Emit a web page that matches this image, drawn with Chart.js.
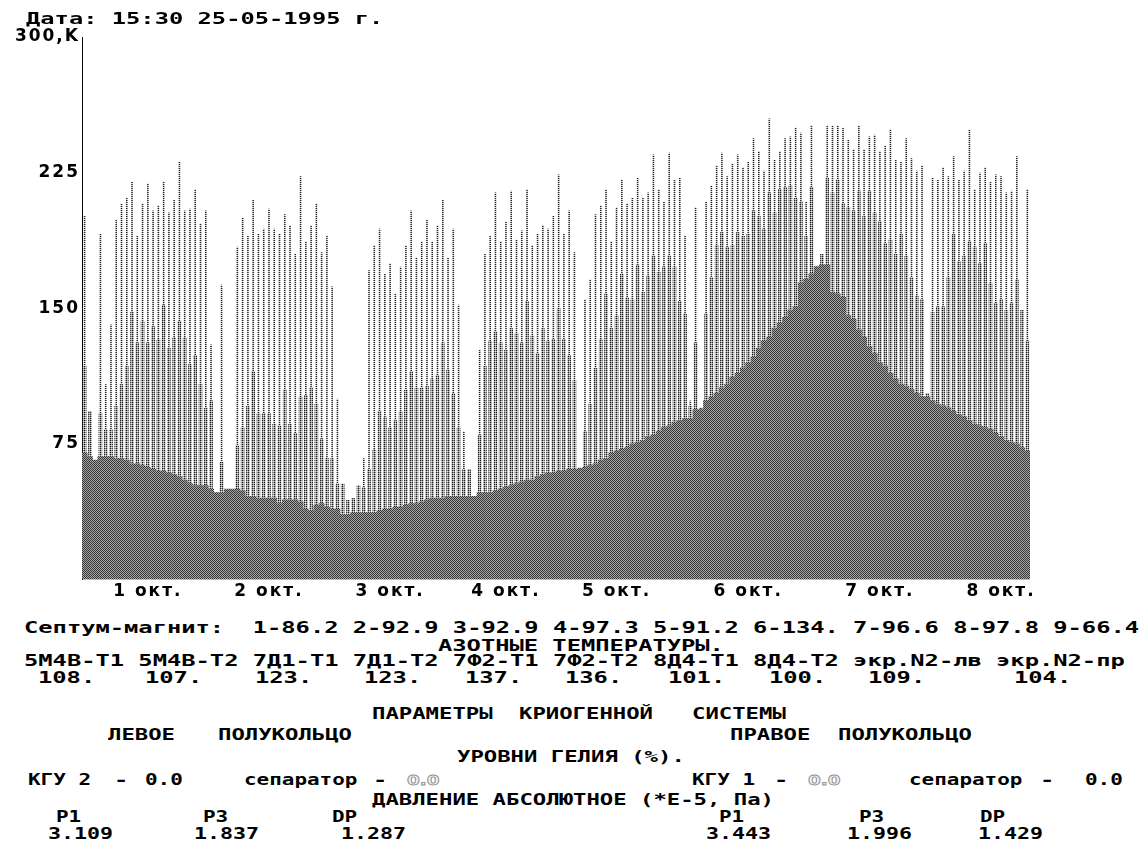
<!DOCTYPE html>
<html>
<head>
<meta charset="utf-8">
<script src="https://cdn.jsdelivr.net/npm/chart.js@4.4.1/dist/chart.umd.min.js"></script>
<style>
    html, body { margin: 0; padding: 0; background: #fff; }
    #screen { position: relative; width: 1145px; height: 843px; overflow: hidden; background: #fff; }
    #chart { position: absolute; left: 0; top: 0; }
    .txt {
        position: absolute;
        font: bold 16px "DejaVu Sans Mono", monospace;
        line-height: 16px;
        white-space: pre;
        color: #000;
        transform-origin: 0 0;
    }
    .dim {
        font: bold 14px "DejaVu Sans", sans-serif;
        line-height: 16px;
        color: #f0f0f0;
        -webkit-text-stroke: 0.8px #909090;
    }
</style>
</head>
<body>
<div id="screen">
    <canvas id="chart" width="1145" height="610"></canvas>
</div>
<script>
// Temperatures, one bar per reading (K)
const tMax = [
    201, 93, 66, 191, 108, 141, 199, 208, 211, 220,
    190, 208, 219, 204, 207, 220, 203, 210, 231, 204,
    205, 216, 197, 204, 130, 48, 163, 50, 50, 184,
    200, 190, 210, 191, 194, 205, 194, 191, 202, 196,
    180, 223, 187, 196, 208, 181, 190, 162, 100, 53,
    44, 45, 52, 67, 171, 185, 194, 169, 175, 158,
    173, 185, 204, 178, 187, 199, 187, 196, 210, 178,
    194, 152, 82, 61, 46, 127, 180, 190, 214, 187,
    198, 215, 188, 193, 216, 185, 191, 196, 194, 201,
    224, 191, 204, 181, 62, 155, 166, 202, 207, 216,
    187, 206, 221, 208, 211, 222, 211, 214, 235, 216,
    209, 236, 221, 222, 190, 99, 206, 95, 209, 218,
    229, 236, 223, 230, 235, 228, 231, 244, 237, 226,
    255, 232, 237, 244, 245, 250, 247, 209, 251, 173,
    180, 251, 251, 251, 250, 243, 238, 251, 238, 245,
    246, 237, 240, 249, 232, 231, 244, 233, 226, 229,
    103, 222, 221, 228, 223, 234, 221, 226, 249, 216,
    225, 228, 220, 224, 223, 214, 215, 234, 149, 216
];
const tMid = [
    118, 93, 66, 92, 83, 83, 96, 108, 118, 148,
    131, 143, 131, 140, 133, 152, 128, 134, 143, 134,
    119, 124, 108, 95, 99, 48, 65, 50, 50, 74,
    84, 96, 115, 92, 92, 92, 86, 85, 105, 86,
    81, 101, 102, 106, 97, 78, 67, 67, 53, 53,
    44, 45, 52, 51, 61, 72, 93, 90, 84, 88,
    93, 105, 115, 106, 106, 107, 111, 113, 131, 116,
    103, 84, 61, 61, 46, 80, 118, 132, 137, 131,
    127, 139, 136, 131, 154, 135, 125, 139, 132, 133,
    150, 133, 124, 110, 62, 82, 97, 117, 133, 158,
    139, 146, 169, 156, 155, 174, 159, 168, 179, 170,
    173, 179, 173, 154, 147, 96, 131, 95, 147, 167,
    185, 192, 184, 185, 192, 190, 191, 204, 201, 194,
    214, 203, 216, 217, 218, 211, 209, 190, 217, 173,
    180, 222, 214, 221, 208, 206, 204, 215, 201, 215,
    203, 198, 186, 188, 180, 191, 179, 167, 157, 155,
    103, 148, 151, 151, 167, 191, 176, 179, 187, 184,
    175, 186, 164, 153, 155, 149, 153, 166, 149, 132
];
const tBase = [
    70, 68, 66, 68, 68, 68, 67, 67, 66, 64,
    64, 63, 62, 61, 60, 60, 59, 58, 57, 55,
    53, 52, 52, 52, 50, 48, 48, 50, 50, 50,
    49, 46, 46, 45, 45, 45, 45, 42, 44, 44,
    44, 43, 39, 38, 41, 42, 40, 39, 39, 36,
    36, 37, 37, 37, 37, 37, 38, 39, 39, 40,
    40, 41, 42, 42, 43, 44, 45, 45, 45, 46,
    46, 46, 46, 46, 46, 48, 48, 48, 49, 50,
    51, 52, 53, 54, 55, 55, 57, 58, 59, 59,
    60, 60, 61, 61, 61, 62, 63, 64, 66, 67,
    70, 71, 72, 73, 75, 76, 77, 79, 80, 82,
    84, 85, 87, 88, 89, 89, 94, 94, 99, 101,
    103, 106, 108, 112, 114, 117, 120, 123, 128, 132,
    134, 139, 142, 145, 149, 151, 164, 166, 169, 173,
    174, 174, 159, 158, 156, 146, 144, 138, 134, 129,
    125, 120, 118, 114, 111, 108, 107, 105, 103, 101,
    101, 99, 97, 96, 95, 93, 91, 90, 88, 86,
    85, 84, 83, 81, 79, 77, 76, 75, 73, 71
];

// Day labels on the time axis and the reading they sit under
const dayLabels = ['1 окт.', '2 окт.', '3 окт.', '4 окт.', '5 окт.', '6 окт.', '7 окт.', '8 окт.'];
const dayIdx = [12, 35, 58, 80, 101, 126, 151, 174];

// Y axis ticks
const yTicks = [0, 75, 150, 225, 300];
const yTopLabel = '300,K';

// Text block under the chart: [text, left, centre y, char advance, class]
const screenText = [
    ['Дата: 15:30 25-05-1995 г.', 26, 18.5],
    ['Септум-магнит:  1-86.2 2-92.9 3-92.9 4-97.3 5-91.2 6-134. 7-96.6 8-97.8 9-66.4', 24, 628],
    ['АЗОТНЫЕ ТЕМПЕРАТУРЫ.', 438, 646],
    ['5М4В-Т1 5М4В-Т2 7Д1-Т1 7Д1-Т2 7Ф2-Т1 7Ф2-Т2 8Д4-Т1 8Д4-Т2 экр.N2-лв экр.N2-пр', 24, 661],
    ['108.', 38, 678], ['107.', 145, 678], ['123.', 255, 678], ['123.', 364, 678],
    ['137.', 465, 678], ['136.', 565, 678], ['101.', 668, 678], ['100.', 769, 678],
    ['109.', 868, 678], ['104.', 1014, 678],
    ['ПАРАМЕТРЫ', 372, 714, 13.4], ['КРИОГЕННОЙ', 519, 714, 13.4], ['СИСТЕМЫ', 692, 714, 13.4],
    ['ЛЕВОЕ', 108, 735, 13.4], ['ПОЛУКОЛЬЦО', 218, 735, 13.4], ['ПРАВОЕ', 730, 735, 13.4], ['ПОЛУКОЛЬЦО', 838, 735, 13.4],
    ['УРОВНИ ГЕЛИЯ (%).', 457, 757, 13.4],
    ['КГУ 2', 28, 780, 12.6], ['-', 114, 780], ['0.0', 145, 780, 12.6],
    ['сепаратор', 244, 780, 12.6], ['-', 373, 780], ['0.0', 407, 780, 12.6, 'dim'],
    ['КГУ 1', 692, 780, 12.6], ['-', 774, 780], ['0.0', 808, 780, 12.6, 'dim'],
    ['сепаратор', 909, 780, 12.6], ['-', 1040, 780], ['0.0', 1085, 780, 12.6],
    ['ДАВЛЕНИЕ АБСОЛЮТНОЕ (*E-5, Па)', 372, 800, 13.4],
    ['P1', 56, 817, 12.6], ['P3', 203, 817, 12.6], ['DP', 332, 817, 12.6],
    ['P1', 719, 817, 12.6], ['P3', 859, 817, 12.6], ['DP', 980, 817, 12.6],
    ['3.109', 48, 834, 13], ['1.837', 194, 834, 13], ['1.287', 341, 834, 13],
    ['3.443', 706, 834, 13], ['1.996', 847, 834, 13], ['1.429', 978, 834, 13]
];

// Small dither tiles, like the old EGA screen fill
function makePattern(rows) {
    const tile = document.createElement('canvas');
    tile.width = rows[0].length;
    tile.height = rows.length;
    const c = tile.getContext('2d');
    rows.forEach((row, y) => {
        row.forEach((col, x) => {
            c.fillStyle = col;
            c.fillRect(x, y, 1, 1);
        });
    });
    return c.createPattern(tile, 'repeat');
}

// Draw the text lines as stretched monospace
function renderText() {
    const screen = document.getElementById('screen');
    screenText.forEach(item => {
        const [text, left, cy, adv, cls] = item;
        const el = document.createElement('div');
        el.className = 'txt' + (cls ? ' ' + cls : '');
        el.textContent = text;
        el.style.left = left + 'px';
        el.style.top = (cy - 7.7) + 'px';
        el.style.transform = 'scaleX(' + ((adv || 14.3) / 9.633).toFixed(3) + ')';
        screen.appendChild(el);
    });
}

function initChart() {
    const labels = tBase.map((v, i) => {
        const k = dayIdx.indexOf(i);
        return k >= 0 ? dayLabels[k] : '';
    });

    const patMax = makePattern([['#202020'], ['#d8d8d8']]);
    const patMid = makePattern([['#1e1e1e', '#9c9c9c'], ['#9c9c9c', '#d8d8d8']]);
    const patBase = makePattern([['#383838', '#a4a4a4'], ['#a4a4a4', '#383838']]);

    // wide DOS-like lettering for the axis labels
    const wideText = {
        id: 'wideText',
        beforeDraw(chart) {
            chart.ctx.letterSpacing = '2px';
        }
    };

    const tickFont = { family: 'DejaVu Sans', size: 17, weight: 'bold' };

    new Chart(document.getElementById('chart'), {
        type: 'bar',
        data: {
            labels: labels,
            datasets: [{
                data: tMax,
                backgroundColor: patMax,
                barPercentage: 0.3,
                categoryPercentage: 1,
                grouped: false,
                inflateAmount: 0,
                order: 3
            }, {
                data: tMid,
                backgroundColor: patMid,
                barPercentage: 0.7,
                categoryPercentage: 1,
                grouped: false,
                inflateAmount: 0,
                order: 2
            }, {
                data: tBase,
                backgroundColor: patBase,
                barPercentage: 1,
                categoryPercentage: 1,
                grouped: false,
                order: 1
            }]
        },
        options: {
            responsive: false,
            animation: false,
            events: [],
            layout: { padding: { left: 0, right: 115, top: 37, bottom: 0 } },
            plugins: {
                legend: { display: false },
                tooltip: { enabled: false }
            },
            scales: {
                x: {
                    grid: { display: false, drawTicks: false },
                    border: { display: false },
                    ticks: {
                        autoSkip: false,
                        maxRotation: 0,
                        minRotation: 0,
                        padding: 2,
                        color: '#000',
                        font: tickFont
                    },
                    afterFit(scale) { scale.height = 30.5; }
                },
                y: {
                    min: 0,
                    max: 300,
                    grid: { display: false, drawTicks: false },
                    border: { display: true, color: '#000', width: 1, dash: [1, 1] },
                    afterBuildTicks(scale) {
                        scale.ticks = yTicks.map(v => ({ value: v }));
                    },
                    ticks: {
                        padding: 2,
                        color: '#000',
                        font: tickFont,
                        callback: v => v === 300 ? yTopLabel : (v === 0 ? '' : String(v))
                    },
                    afterFit(scale) { scale.width = 82; }
                }
            }
        },
        plugins: [wideText]
    });
}

document.addEventListener('DOMContentLoaded', function() {
    renderText();
    initChart();
});
</script>
</body>
</html>
